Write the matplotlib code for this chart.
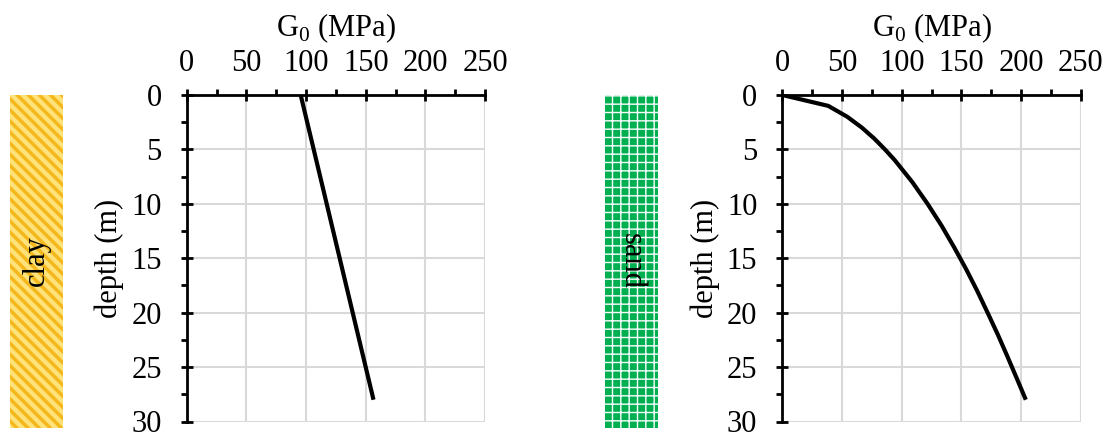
import matplotlib
matplotlib.use('Agg')
import matplotlib.pyplot as plt
from matplotlib.patches import Rectangle

# Profils de module G0
clay_depth = [0, 28]
clay_g0 = [95.5, 156.5]

sand_depth = [0, 1, 2, 3, 4, 5, 6, 8, 10, 12, 14, 16, 18, 20, 22, 24, 26, 28]
sand_g0 = [0, 38.5, 54.4, 66.7, 77, 86, 94.3, 108.9, 121.7, 133.4, 144, 154, 163.3, 172, 180.5, 188.5, 196.3, 204]

x_ticks = [0, 50, 100, 150, 200, 250]
y_ticks = [0, 5, 10, 15, 20, 25, 30]

plt.rcParams['font.family'] = ['Liberation Serif', 'DejaVu Serif']
plt.rcParams['font.size'] = 22
plt.rcParams['hatch.linewidth'] = 2.5

W, H = 1114, 437
fig = plt.figure(figsize=(W / 100, H / 100), dpi=100)


def profil(left, depth, g0, strip_x, soil, rot, face, hatch_col, hatch):
    ax = fig.add_axes([left / W, (H - 421.5) / H, 298.4 / W, 326.5 / H])
    ax.plot(g0, depth, color='black', lw=3, solid_capstyle='butt')
    ax.set_xlim(0, 250)
    ax.set_ylim(30, 0)
    ax.set_xticks(x_ticks)
    ax.set_yticks(y_ticks)
    ax.set_xticks([25, 75, 125, 175, 225], minor=True)
    ax.set_yticks([2.5, 7.5, 12.5, 17.5, 22.5, 27.5], minor=True)
    ax.xaxis.tick_top()
    ax.xaxis.set_label_position('top')
    ax.grid(True, which='major', color='#d9d9d9', lw=1.5)
    ax.set_axisbelow(True)
    for s in ['right', 'bottom']:
        ax.spines[s].set_visible(False)
    for s in ['left', 'top']:
        ax.spines[s].set_linewidth(2)
    ax.tick_params(which='major', direction='inout', length=8, width=2)
    ax.tick_params(which='minor', direction='out', length=4, width=2)
    ax.tick_params(axis='x', which='both', pad=8.5, top=True, bottom=False)
    ax.tick_params(axis='y', which='major', pad=14)
    ax.set_xlabel('G$_\\mathregular{0}$ (MPa)')
    ax.xaxis.set_label_coords(0.5, 1.18)
    ax.set_ylabel('depth (m)')
    ax.yaxis.set_label_coords(-0.21, 0.5)

    # bande de sol
    rect = Rectangle((strip_x / W, (H - 428) / H), 53 / W, 333 / H, transform=fig.transFigure,
                     facecolor=face, edgecolor=hatch_col, hatch=hatch, lw=0)
    fig.patches.append(rect)
    fig.text((strip_x + 26.5) / W, (H - 261) / H, soil, rotation=rot,
             ha='center', va='center')
    return ax


profil(186.7, clay_depth, clay_g0, 10, 'clay', 90, '#ffe27a', '#f5b81c', '\\\\\\')
plt.rcParams['hatch.linewidth'] = 1.0
profil(782.3, sand_depth, sand_g0, 605, 'sand', 270, '#00b050', 'white', '++')

plt.savefig('out.png', dpi=100)
